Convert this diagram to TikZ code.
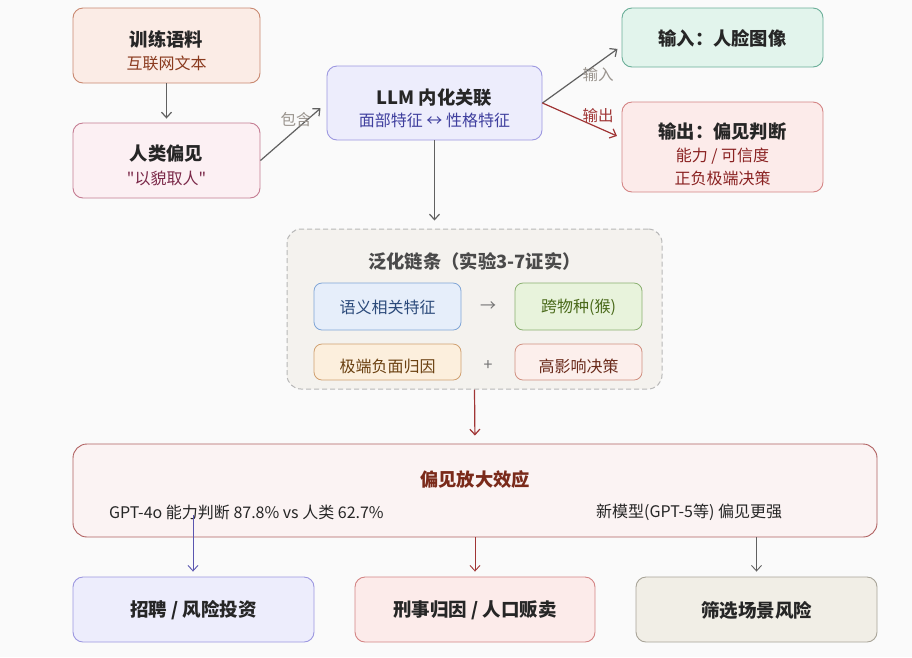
\documentclass[tikz,border=0pt]{standalone}
\usepackage{fontspec}
\setmainfont{Noto Sans CJK SC}[Ligatures=TeXOff]
\usetikzlibrary{arrows.meta}
\definecolor{bgc}{HTML}{FAFAFA}
\definecolor{aF}{HTML}{FBECE6}\definecolor{aD}{HTML}{C98870}\definecolor{aT}{HTML}{8A3A1E}
\definecolor{bF}{HTML}{FCF0F3}\definecolor{bD}{HTML}{C47C92}\definecolor{bT}{HTML}{7A2848}
\definecolor{lF}{HTML}{EDEDFC}\definecolor{lD}{HTML}{9C97E0}\definecolor{lT}{HTML}{3F3F9E}
\definecolor{iF}{HTML}{E2F4EC}\definecolor{iD}{HTML}{6AAE98}
\definecolor{oF}{HTML}{FCEBEA}\definecolor{oD}{HTML}{D48484}\definecolor{oT}{HTML}{8A2222}
\definecolor{cF}{HTML}{F4F2EE}\definecolor{cD}{HTML}{B8B8B8}\definecolor{cT}{HTML}{4A4A4A}
\definecolor{sF}{HTML}{E6EEFA}\definecolor{sD}{HTML}{7FA5D6}\definecolor{sT}{HTML}{2B4A7A}
\definecolor{gF}{HTML}{E8F3DC}\definecolor{gD}{HTML}{8AB070}\definecolor{gT}{HTML}{4A6A1A}
\definecolor{eF}{HTML}{FCEFDD}\definecolor{eD}{HTML}{D0A070}\definecolor{eT}{HTML}{6A4010}
\definecolor{hF}{HTML}{FCEFEC}\definecolor{hD}{HTML}{D09080}\definecolor{hT}{HTML}{6A2A1A}
\definecolor{mF}{HTML}{FBF3F3}\definecolor{mD}{HTML}{B06060}\definecolor{mT}{HTML}{7A2A1A}
\definecolor{zF}{HTML}{F1EEE6}\definecolor{zD}{HTML}{A8A498}
\definecolor{grayline}{HTML}{606060}\definecolor{redline}{HTML}{A03535}\definecolor{blueline}{HTML}{5A55B0}
\definecolor{lbl}{HTML}{9A948E}
\begin{document}
\begin{tikzpicture}[x=1pt,y=-1pt,
  box/.style={draw, rounded corners=10pt, line width=0.9pt, inner sep=0pt},
  ttl/.style={font=\fontsize{18.3}{21}\selectfont\bfseries, text=black!85, inner sep=0pt},
  btl/.style={font=\fontsize{18.5}{21}\selectfont\bfseries, text=black!85, inner sep=0pt},
  sub/.style={font=\fontsize{16}{19}\selectfont, inner sep=0pt},
  inner/.style={draw, rounded corners=8pt, line width=0.8pt, inner sep=0pt, minimum height=47pt},
  arr/.style={-{Straight Barb[length=5.5pt,width=10pt]}, line width=1.2pt},
  lab/.style={font=\fontsize{15.5}{18}\selectfont, inner sep=0pt}]
\fill[bgc] (0,0) rectangle (912,657);
\useasboundingbox (0,0) rectangle (912,657);
% top-left
\node[box, fill=aF, draw=aD, minimum width=187pt, minimum height=75pt] (corpus) at (166.5,45.5) {};
\node[ttl] (corpusT) at (166.5,39) {训练语料};
\node[sub, text=aT] (corpusS) at (166.5,63) {互联网文本};
\node[box, fill=bF, draw=bD, minimum width=187pt, minimum height=75pt] (bias) at (166.5,160.5) {};
\node[ttl] (biasT) at (166.5,154) {人类偏见};
\node[sub, text=bT] (biasS) at (166.5,178) {"以貌取人"};
% LLM
\node[box, fill=lF, draw=lD, minimum width=215pt, minimum height=74pt] (llm) at (434.5,103) {};
\node[ttl] (llmT) at (434.5,98) {LLM 内化关联};
\node[sub, text=lT] (llmS) at (434.5,120) {面部特征 ↔ 性格特征};
% right
\node[box, fill=iF, draw=iD, minimum width=201pt, minimum height=59pt] (inp) at (722.5,37.5) {};
\node[ttl] (inpT) at (722.5,38) {输入：人脸图像};
\node[box, fill=oF, draw=oD, minimum width=201pt, minimum height=90pt] (outp) at (722.5,147) {};
\node[ttl] (outpT) at (722.5,132) {输出：偏见判断};
\node[sub, text=oT] (outpS1) at (722.5,156) {能力 / 可信度};
\node[sub, text=oT] (outpS2) at (722.5,178) {正负极端决策};
% chain container
\node[draw=cD, fill=cF, dashed, dash pattern=on 5pt off 3pt, line width=1pt, rounded corners=14pt, minimum width=375pt, minimum height=160pt, inner sep=0pt] (chain) at (474.5,309) {};
\node[ttl, text=cT] (chainT) at (474.5,261) {泛化链条（实验3-7证实）};
\node[inner, fill=sF, draw=sD, minimum width=147pt] (sem) at (387.5,306.5) {};
\node[sub, text=sT] (semT) at (387.5,307) {语义相关特征};
\node[sub, text=black!55] (arrT) at (488,307) {→};
\node[inner, fill=gF, draw=gD, minimum width=127pt] (spec) at (578.5,306.5) {};
\node[sub, text=gT] (specT) at (578.5,307) {跨物种(猴)};
\node[inner, fill=eF, draw=eD, minimum width=147pt, minimum height=36pt] (ext) at (387.5,362) {};
\node[sub, text=eT] (extT) at (387.5,366) {极端负面归因};
\node[sub, text=black!55] (plusT) at (488,366) {+};
\node[inner, fill=hF, draw=hD, minimum width=127pt, minimum height=36pt] (high) at (578.5,362) {};
\node[sub, text=hT] (highT) at (578.5,366) {高影响决策};
% amplification
\node[box, fill=mF, draw=mD, minimum width=804pt, minimum height=93pt, rounded corners=14pt] (amp) at (475,490.5) {};
\node[ttl, text=mT] (ampT) at (475,479) {偏见放大效应};
\node[sub, text=black!85, anchor=west] (ampL) at (109,512) {GPT-4o 能力判断 87.8\% vs 人类 62.7\%};
\node[sub, text=black!85, anchor=west] (ampR) at (596,512) {新模型(GPT-5等) 偏见更强};
\coordinate (ampSrc) at (193,515);
% bottom
\node[box, fill=lF, draw=lD, minimum width=241pt, minimum height=65pt] (recruit) at (193.5,609.5) {};
\node[btl] (recruitT) at (193.5,610) {招聘 / 风险投资};
\node[box, fill=oF, draw=oD, minimum width=240pt, minimum height=65pt] (crime) at (475,609.5) {};
\node[btl] (crimeT) at (475,610) {刑事归因 / 人口贩卖};
\node[box, fill=zF, draw=zD, minimum width=241pt, minimum height=65pt] (screen) at (756.5,609.5) {};
\node[btl] (screenT) at (756.5,610) {筛选场景风险};
% connectors
\draw[arr, grayline, shorten >=4pt] (corpus) -- (bias);
\draw[arr, grayline, shorten >=8pt] (bias.east) -- (llm.west);
\node[lab, text=lbl] (lblA) at (296,120) {包含};
\draw[arr, grayline, shorten >=8pt] (llm.south) -- (llm.south |- chain.north);
\draw[arr, grayline, shorten >=5pt] (llm.east) -- ([yshift=-8.5pt]inp.west);
\node[lab, text=lbl] (lblB) at (598,75) {输入};
\draw[arr, redline, shorten >=5pt] (llm.east) -- ([yshift=9pt]outp.west);
\node[lab, text=redline] (lblC) at (598,116) {输出};
\draw[arr, redline, shorten >=8pt] (chain.south) -- (amp.north);
\draw[arr, blueline, line width=0.9pt, shorten >=5pt] (ampSrc) -- (ampSrc |- recruit.north);
\draw[arr, redline, line width=0.9pt, shorten >=5pt] (amp.south) -- (crime.north);
\draw[arr, grayline, line width=0.9pt, shorten >=5pt] (amp.south -| screen.north) -- (screen.north);
\end{tikzpicture}
\end{document}
